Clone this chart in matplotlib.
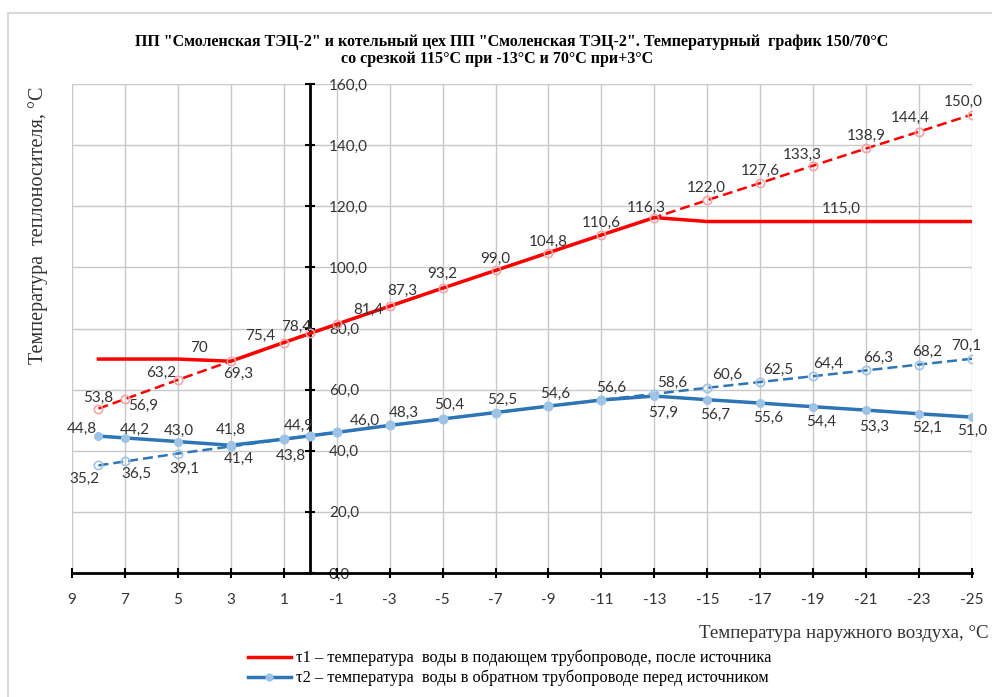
import matplotlib
matplotlib.use("Agg")
import matplotlib.pyplot as plt
from matplotlib.ticker import FuncFormatter, FixedLocator
from matplotlib.lines import Line2D
from matplotlib.patches import Rectangle

# данные графика
t_air = [8, 7, 5, 3, 1, 0, -1, -3, -5, -7, -9, -11, -13, -15, -17, -19, -21, -23, -25]
t1_calc = [53.8, 56.9, 63.2, 69.3, 75.4, 78.4, 81.4, 87.3, 93.2, 99.0, 104.8, 110.6,
           116.3, 122.0, 127.6, 133.3, 138.9, 144.4, 150.0]
t1 = [70.0, 70.0, 70.0, 69.3, 75.4, 78.4, 81.4, 87.3, 93.2, 99.0, 104.8, 110.6,
      116.3, 115.0, 115.0, 115.0, 115.0, 115.0, 115.0]
t2_calc = [35.2, 36.5, 39.1, 41.4, 43.8, 44.9, 46.0, 48.3, 50.4, 52.5, 54.6, 56.6,
           58.6, 60.6, 62.5, 64.4, 66.3, 68.2, 70.1]
t2 = [44.8, 44.2, 43.0, 41.8, 43.8, 44.9, 46.0, 48.3, 50.4, 52.5, 54.6, 56.6,
      57.9, 56.7, 55.6, 54.4, 53.3, 52.1, 51.0]
x_ticks = list(range(9, -26, -2))
y_ticks = list(range(0, 161, 20))

title1 = 'ПП "Смоленская ТЭЦ-2" и котельный цех ПП "Смоленская ТЭЦ-2". Температурный  график 150/70°С'
title2 = 'со срезкой 115°С при -13°С и 70°С при+3°С'
legend_labels = ['τ1 – температура  воды в подающем трубопроводе, после источника',
                 'τ2 – температура  воды в обратном трубопроводе перед источником']

plt.rcParams['axes.unicode_minus'] = False
SERIF = 'Liberation Serif'
NUM = 'Lato'

RED = '#FF0000'
RED_LIGHT = '#F4A6A6'
BLUE = '#2E75B6'
BLUE_LIGHT = '#9DC3E6'
TXT = '#333333'

fig = plt.figure(figsize=(9.92, 6.97), dpi=100)
ax = fig.add_axes([72 / 992, 1 - 573 / 697, 900 / 992, (573 - 84) / 697])

# пунктир - расчётные значения
ax.plot(t_air, t1_calc, color=RED, lw=1.8, ls=(0, (4, 2)), zorder=2)
ax.plot(t_air, t2_calc, color=BLUE, lw=1.8, ls=(0, (4, 2)), zorder=2)
# сплошные - фактический график
ax.plot(t_air, t1, color=RED, lw=2.5, zorder=3)
ax.plot(t_air, t2, color=BLUE, lw=2.5, zorder=3)
# маркеры
ax.plot(t_air, t1_calc, ls='none', marker='o', ms=6, mfc='none', mec=RED_LIGHT, mew=1.2, zorder=4)
ax.plot(t_air, t2_calc, ls='none', marker='o', ms=6, mfc='none', mec=BLUE_LIGHT, mew=1.2, zorder=4)
ax.plot(t_air, t2, ls='none', marker='o', ms=5.5, mfc=BLUE_LIGHT, mec=BLUE_LIGHT, zorder=4)

ax.set_xlim(9, -25)
ax.set_ylim(0, 160)
ax.xaxis.set_major_locator(FixedLocator(x_ticks))
ax.yaxis.set_major_locator(FixedLocator(y_ticks))
ax.xaxis.set_major_formatter(FuncFormatter(lambda v, p: f"{v:.0f}"))
ax.yaxis.set_major_formatter(FuncFormatter(lambda v, p: f"{v:.1f}".replace('.', ',')))
ax.grid(True, color='#C8C8C8', lw=1)
ax.set_axisbelow(True)

# вертикальная ось проходит через 0
ax.spines['left'].set_visible(False)
ax.spines['top'].set_visible(False)
ax.yaxis.tick_right()
ax.spines['right'].set_position(('data', 0))
ax.spines['right'].set_linewidth(2)
ax.spines['bottom'].set_linewidth(2)
ax.tick_params(axis='y', direction='inout', length=7, width=1.5, pad=10,
               labelsize=11, labelcolor=TXT)
ax.tick_params(axis='x', direction='inout', length=7, width=1.5, pad=11,
               labelsize=11, labelcolor=TXT)
for lab in ax.get_xticklabels() + ax.get_yticklabels():
    lab.set_fontfamily(NUM)


def fmt(v):
    return f"{v:.1f}".replace('.', ',')


def put_labels(ys, offsets):
    for i, off in offsets.items():
        ax.annotate(fmt(ys[i]), (t_air[i], ys[i]), xytext=off, textcoords='offset points',
                    ha='center', va='center', fontsize=11, color=TXT, family=NUM, zorder=5)


# подписи значений
put_labels(t1_calc, {0: (0, 8), 1: (13, -5), 2: (-12, 5), 3: (5, -9), 4: (-17, 5),
                     5: (-10, 5), 6: (23, 10), 7: (9, 11), 8: (0, 10), 9: (0, 8),
                     10: (0, 8), 11: (0, 9), 12: (-6, 7), 13: (-1, 9), 14: (0, 9),
                     15: (-8, 8), 16: (0, 9), 17: (-6, 10), 18: (-6, 9)})
put_labels(t2, {0: (-12, 5), 1: (7, 6), 2: (1, 8), 3: (0, 11), 4: (5, -12), 5: (-8, 7),
                6: (20, 8), 7: (10, 9), 8: (5, 10), 9: (5, 9), 10: (5, 9), 11: (7, 9),
                12: (6, -12), 13: (6, -11), 14: (6, -11), 15: (6, -11), 16: (6, -12),
                17: (6, -10), 18: (0, -10)})
put_labels(t2_calc, {0: (-10, -10), 1: (8, -9), 2: (5, -11), 3: (6, -9),
                     12: (13, 8), 13: (14, 9), 14: (13, 9), 15: (11, 9), 16: (9, 9),
                     17: (6, 9), 18: (-4, 9)})
ax.annotate("70", (t_air[2], t1[2]), xytext=(15, 8), textcoords='offset points',
            ha='center', va='center', fontsize=11, color=TXT, family=NUM)
ax.annotate(fmt(t1[15]), (t_air[15], t1[15]), xytext=(20, 9), textcoords='offset points',
            ha='center', va='center', fontsize=11, color=TXT, family=NUM)

# заголовки
fig.text(512 / 992, 1 - 42 / 697, title1, ha='center', va='center', fontsize=11.5,
         fontweight='bold', family=SERIF)
fig.text(497 / 992, 1 - 59 / 697, title2, ha='center', va='center', fontsize=11.5,
         fontweight='bold', family=SERIF)
fig.text(38 / 992, 1 - 225 / 697, 'Температура  теплоносителя, °С', rotation=90,
         ha='center', va='center', fontsize=14.5, family=SERIF, color=TXT)
fig.text(989 / 992, 1 - 633 / 697, 'Температура наружного воздуха, °С', ha='right',
         va='center', fontsize=13.6, family=SERIF, color=TXT)

# легенда
handles = [Line2D([], [], color=RED, lw=2.5),
           Line2D([], [], color=BLUE, lw=2.5, marker='o', ms=5, mfc=BLUE_LIGHT, mec=BLUE_LIGHT)]
fig.legend(handles, legend_labels, loc='upper left', bbox_to_anchor=(248 / 992, 1 - 650 / 697),
           frameon=False, handlelength=2.6, handletextpad=0.3, borderpad=0, borderaxespad=0,
           labelspacing=0.2, prop={'family': SERIF, 'size': 11.8})

# рамка области диаграммы
fig.patches.append(Rectangle((8 / 992, -0.1), 1.1, 1.1 - 13 / 697,
                             transform=fig.transFigure, fill=False, ec='#D9D9D9', lw=1.5))

fig.savefig('out.png', dpi=100)
